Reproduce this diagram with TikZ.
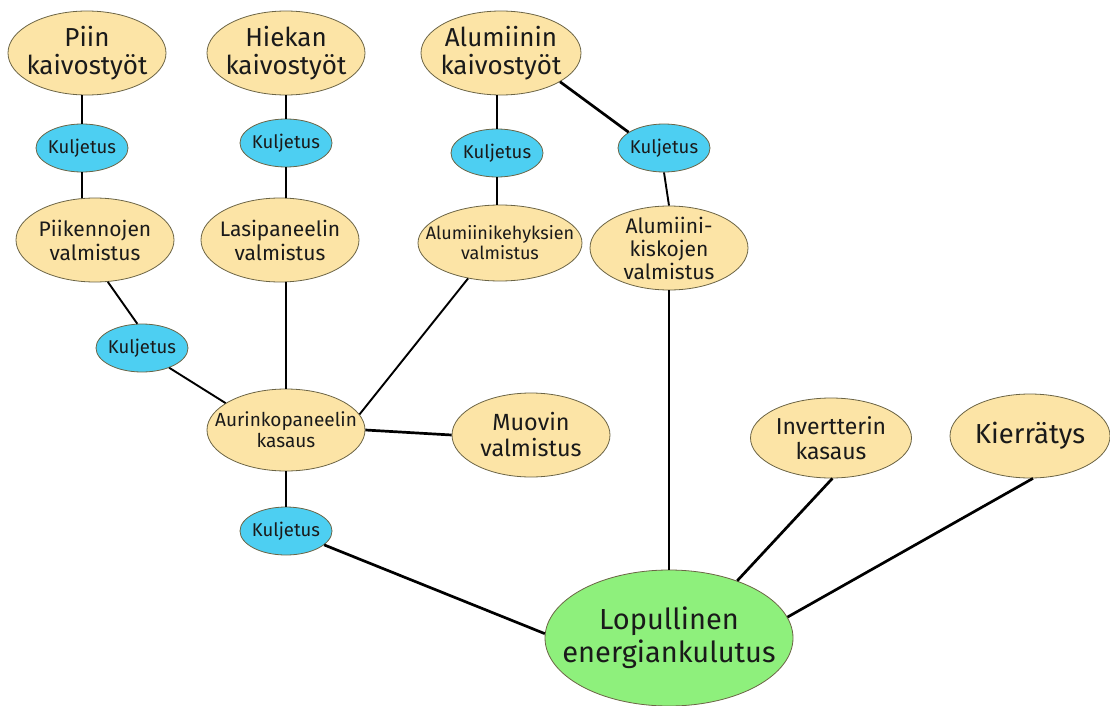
\documentclass[tikz,border=0pt]{standalone}
\usepackage{fontspec}
\setmainfont{Fira Sans}
\usetikzlibrary{shapes.geometric}
\definecolor{ylw}{HTML}{FCE4A6}
\definecolor{blu}{HTML}{4DCFF2}
\definecolor{grn}{HTML}{8EF07C}
\definecolor{edge}{HTML}{6B6445}
\definecolor{txt}{HTML}{1A1A1A}
\tikzset{
  ell/.style={ellipse, draw=edge, line width=0.8pt, inner sep=-60pt, align=center, text=txt},
  yel/.style={ell, fill=ylw},
  big/.style={yel, minimum width=158pt, minimum height=84pt, font=\fontsize{26}{28}\selectfont},
  med/.style={yel, minimum width=158pt, minimum height=84pt, font=\fontsize{21}{24}\selectfont},
  sml/.style={yel, minimum width=160pt, minimum height=80pt, font=\fontsize{19}{21}\selectfont},
  kul/.style={ell, fill=blu, minimum width=92pt, minimum height=48pt, font=\fontsize{18.5}{20}\selectfont},
  conn/.style={line width=1.9pt, black},
  thk/.style={line width=2.7pt, black},
}
\begin{document}
\begin{tikzpicture}[x=1pt,y=-1pt]
\useasboundingbox (0,0) rectangle (1110,706);
% top row
\node[big] (piin) at (87,53) {Piin\\kaivostyöt};
\node[big] (hiek) at (286,53) {Hiekan\\kaivostyöt};
\node[big, minimum width=160pt] (alum) at (501,53) {Alumiinin\\kaivostyöt};
% transport
\node[kul] (k1) at (82,148) {Kuljetus};
\node[kul] (k2) at (286,143) {Kuljetus};
\node[kul] (k3) at (497,153) {Kuljetus};
\node[kul] (k4) at (664,148) {Kuljetus};
% manufacturing
\node[med] (piik) at (95,240) {Piikennojen\\valmistus};
\node[med] (lasi) at (280,240) {Lasipaneelin\\valmistus};
\node[sml, minimum width=164pt, minimum height=76pt, font=\fontsize{18}{20}\selectfont] (ake) at (500,243) {Alumiinikehyksien\\valmistus};
\node[med, minimum height=84pt, font=\fontsize{21}{23}\selectfont] (kisk) at (669,248) {Alumiini-\\kiskojen\\valmistus};
\node[kul] (k5) at (142,348) {Kuljetus};
\node[sml, minimum width=158pt, minimum height=82pt] (aur) at (286,430) {Aurinkopaneelin\\kasaus};
\node[med, font=\fontsize{23.4}{26}\selectfont] (muov) at (531,435) {Muovin\\valmistus};
\node[med, minimum width=161pt, minimum height=80pt, font=\fontsize{23}{25}\selectfont] (inv) at (831,438) {Invertterin\\kasaus};
\node[med, minimum width=160pt, font=\fontsize{27.5}{30}\selectfont] (kier) at (1030,436) {Kierrätys};
\node[kul] (k6) at (286,531) {Kuljetus};
\node[ell, fill=grn, minimum width=248pt, minimum height=136pt, font=\fontsize{29}{33}\selectfont] (lop) at (669,638) {Lopullinen\\energiankulutus};
% connectors
\draw[conn] (k1.north) -- (k1.north |- piin.south);
\draw[conn] (k1.south) -- (k1.south |- piik.north);
\draw[conn] (piik.287) -- (k5.101);
\draw[conn] (k5.324) -- (aur.156);
\draw[conn] (k2.north) -- (k2.north |- hiek.south);
\draw[conn] (k2.south) -- (k2.south |- lasi.north);
\draw[conn] (aur.north) -- (aur.north |- lasi.south);
\draw[conn] (k3.north) -- (k3.north |- alum.south);
\draw[conn] (k3.south) -- (k3.south |- ake.north);
\draw[conn] (ake.228) -- (aur.12);
\draw[thk] (alum.334) -- (k4.156);
\draw[conn] (k4.south) -- (kisk.north);
\draw[conn] (kisk.south) -- (lop.north);
\draw[thk] (aur.east) -- (muov.west);
\draw[conn] (aur.south) -- (k6.north);
\draw[thk] (k6.340) -- (lop.178);
\draw[thk] (inv.272) -- (lop.40);
\draw[thk] (kier.274) -- (lop.10);
\end{tikzpicture}
\end{document}
